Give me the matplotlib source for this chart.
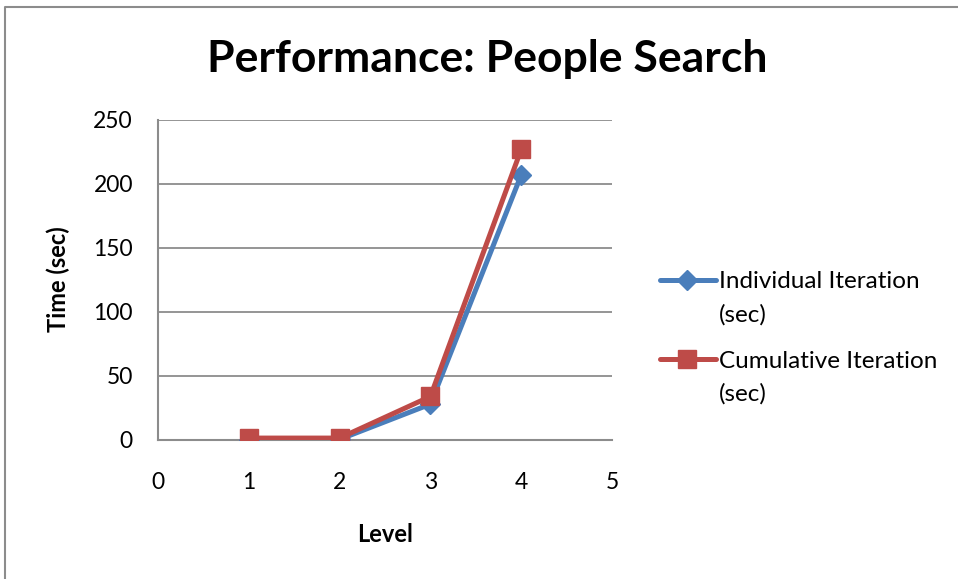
import matplotlib
matplotlib.use("Agg")
import matplotlib.pyplot as plt
from matplotlib.lines import Line2D

plt.rcParams['font.family'] = ['Lato', 'DejaVu Sans']

levels = [1, 2, 3, 4]
individual = [0.3, 0.5, 28, 207]
cumulative = [1.5, 1.5, 34, 227]
series_names = ["Individual Iteration\n(sec)", "Cumulative Iteration\n(sec)"]
title = "Performance: People Search"
xlabel = "Level"
ylabel = "Time (sec)"
x_ticks = [0, 1, 2, 3, 4, 5]
y_ticks = [0, 50, 100, 150, 200, 250]

blue = "#4A7EBB"
red = "#BE4B48"
grid_c = "#8C8C8C"

fig = plt.figure(figsize=(9.58, 5.79), dpi=100)
ax = fig.add_axes([158/958, 1-440/579, (612-158)/958, (440-120)/579])

ax.plot(levels, individual, color=blue, lw=3.6, marker='D', ms=10,
        mfc=blue, mec=blue, zorder=3, solid_capstyle='round')
ax.plot(levels, cumulative, color=red, lw=3.6, marker='s', ms=13,
        mfc=red, mec=red, zorder=4, solid_capstyle='round')

ax.set_xlim(0, 5)
ax.set_ylim(0, 250)
ax.set_xticks(x_ticks)
ax.set_yticks(y_ticks)
ax.tick_params(length=0, labelsize=16.5)
ax.tick_params(axis='y', pad=18)
ax.tick_params(axis='x', pad=23)
ax.grid(axis='y', color=grid_c, lw=1.3)
ax.set_axisbelow(True)
for s in ['top', 'right']:
    ax.spines[s].set_visible(False)
for s in ['left', 'bottom']:
    ax.spines[s].set_color(grid_c)
    ax.spines[s].set_linewidth(1.5)

fig.text(487/958, 1-59/579, title, ha='center', va='center', fontsize=32, fontweight='bold')
fig.text(385/958, 1-535/579, xlabel, ha='center', va='center', fontsize=17, fontweight='bold')
fig.text(58/958, 1-279/579, ylabel, ha='center', va='center', fontsize=17,
         fontweight='bold', rotation=90)

# legend
leg_y = [280, 359]
for y, name, c, m, ms in zip(leg_y, series_names, [blue, red], ['D', 's'], [10, 13]):
    yy = 1 - y/579
    fig.add_artist(Line2D([660/958, 716/958], [yy, yy], transform=fig.transFigure,
                          color=c, lw=3.6, solid_capstyle='round'))
    fig.add_artist(Line2D([687/958], [yy], transform=fig.transFigure,
                          marker=m, ms=ms, color=c, lw=0))
    for i, part in enumerate(name.split("\n")):
        fig.text(719/958, 1 - (y + 33*i)/579, part, ha='left', va='center_baseline',
                 fontsize=17.5, transform=fig.transFigure)

# outer chart border (top and left visible)
fig.add_artist(Line2D([5/958, 5/958, 1.0], [0.0, 1-7/579, 1-7/579],
                      transform=fig.transFigure, color="#8C8C8C", lw=1.5))

fig.savefig("out.png", dpi=100)
